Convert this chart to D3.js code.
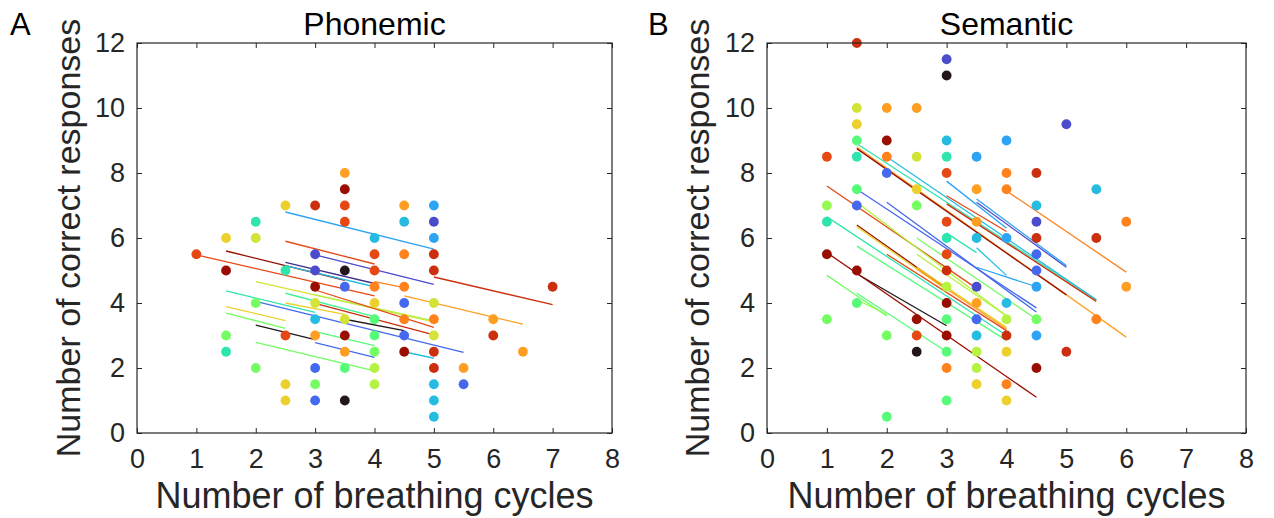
<!DOCTYPE html>
<html>
<head>
<meta charset="utf-8">
<script src="https://cdn.jsdelivr.net/npm/d3@7"></script>
<style>
  body { margin: 0; background: #fff; }
  svg { font-family: "Liberation Sans", Arial, sans-serif; }
</style>
</head>
<body>
<div id="chart"></div>
<script>
// Tick values shared by both panels
const xTicks = [0, 1, 2, 3, 4, 5, 6, 7, 8];
const yTicks = [0, 2, 4, 6, 8, 10, 12];
const panelTitles = ['Phonemic', 'Semantic'];
const panelLetters = ['A', 'B'];
const xLabel = 'Number of breathing cycles';
const yLabel = 'Number of correct responses';

// Points: [breathing cycles, correct responses, subject]
const phonemicPoints = [
  [1, 5.5, 20],
  [1.5, 6, 15], [1.5, 5, 23], [1.5, 3, 11], [1.5, 2.5, 8],
  [2, 6.5, 8], [2, 6, 14], [2, 4, 11], [2, 2, 11],
  [2.5, 7, 15], [2.5, 5, 8], [2.5, 3, 20], [2.5, 1.5, 15], [2.5, 1, 15],
  [3, 7, 21], [3, 5.5, 2], [3, 5, 2], [3, 4.5, 23], [3, 4, 14], [3, 3.5, 6], [3, 3, 17], [3, 2, 3], [3, 1.5, 11], [3, 1, 3],
  [3.5, 8, 17], [3.5, 7.5, 23], [3.5, 7, 20], [3.5, 6.5, 20], [3.5, 5, 0], [3.5, 4.5, 3], [3.5, 3.5, 14], [3.5, 3, 23], [3.5, 2.5, 17], [3.5, 2, 10], [3.5, 1, 0],
  [4, 6, 6], [4, 5.5, 20], [4, 5, 20], [4, 4.5, 18], [4, 4, 15], [4, 3.5, 10], [4, 3, 10], [4, 2.5, 11], [4, 2, 13], [4, 1.5, 13],
  [4.5, 7, 17], [4.5, 6.5, 6], [4.5, 5.5, 18], [4.5, 4.5, 18], [4.5, 4, 3], [4.5, 3.5, 18], [4.5, 3, 3], [4.5, 2.5, 23],
  [5, 7, 5], [5, 6.5, 2], [5, 6, 5], [5, 5.5, 21], [5, 5, 21], [5, 4, 14], [5, 3.5, 18], [5, 3, 14], [5, 2.5, 21], [5, 2, 21], [5, 1.5, 6], [5, 1, 6], [5, 0.5, 6],
  [5.5, 2, 17], [5.5, 1.5, 3],
  [6, 3.5, 17], [6, 3, 21],
  [6.5, 2.5, 17],
  [7, 4.5, 21]
];

// Fitted lines: [x1, y1, x2, y2, subject]
const phonemicLines = [
  [2.5, 6.8, 5, 5.66, 5],
  [2.5, 5.9, 4, 5.2, 20],
  [1, 5.48, 4, 4.22, 20],
  [1.5, 5.6, 3.5, 4.7, 23],
  [3, 5.48, 5, 4.57, 2],
  [2.5, 5.25, 4, 4.6, 1],
  [2.5, 5.15, 4, 4.5, 6],
  [2, 4.66, 5, 3.42, 14],
  [4, 4.66, 4.5, 4.47, 18],
  [4.5, 4.22, 6.5, 3.35, 17],
  [5, 4.8, 7, 3.95, 21],
  [1.5, 4.37, 3, 3.71, 8],
  [2.5, 4.3, 4, 3.58, 9],
  [2, 4.05, 5.5, 2.48, 3],
  [1.5, 3.89, 2.5, 3.46, 15],
  [1.5, 3.69, 2.5, 3.22, 11],
  [2, 3.32, 3, 2.87, 0],
  [2, 2.79, 4, 1.91, 11],
  [3, 3.12, 4, 2.69, 10],
  [3, 2.78, 4, 2.33, 3],
  [3, 4.25, 5, 3.45, 13],
  [3, 3.99, 5, 3.02, 21],
  [3.5, 3.5, 4.5, 3.15, 0],
  [4.5, 2.5, 5, 2.3, 6],
  [3, 4.4, 5, 3.25, 20],
  [2.5, 4.0, 3.5, 3.65, 15]
];

const semanticPoints = [
  [1, 8.5, 20], [1, 7, 12], [1, 6.5, 8], [1, 5.5, 23], [1, 3.5, 11],
  [1.5, 12, 21], [1.5, 10, 14], [1.5, 9.5, 15], [1.5, 9, 10], [1.5, 8.5, 8], [1.5, 7.5, 10], [1.5, 7, 3], [1.5, 5, 23], [1.5, 4, 10],
  [2, 10, 17], [2, 9, 23], [2, 8.5, 18], [2, 8, 3], [2, 3, 11], [2, 0.5, 10],
  [2.5, 10, 17], [2.5, 8.5, 14], [2.5, 7.5, 15], [2.5, 7, 11], [2.5, 3.5, 23], [2.5, 3, 20], [2.5, 2.5, 0],
  [3, 11.5, 2], [3, 11, 0], [3, 9, 6], [3, 8.5, 8], [3, 8, 20], [3, 6.5, 20], [3, 6, 8], [3, 5.5, 20], [3, 5, 21], [3, 4.5, 13], [3, 4, 23], [3, 3.5, 10], [3, 3, 23], [3, 2.5, 10], [3, 2, 18], [3, 1, 10],
  [3.5, 8.5, 5], [3.5, 7.5, 17], [3.5, 6.5, 17], [3.5, 6, 6], [3.5, 4.5, 2], [3.5, 4, 17], [3.5, 3.5, 3], [3.5, 3, 6], [3.5, 2.5, 13], [3.5, 2, 13], [3.5, 1.5, 15],
  [4, 9, 5], [4, 8, 18], [4, 7.5, 18], [4, 6, 5], [4, 4, 6], [4, 3.5, 13], [4, 3, 21], [4, 2.5, 15], [4, 1.5, 18], [4, 1, 15],
  [4.5, 8, 21], [4.5, 7, 6], [4.5, 6.5, 2], [4.5, 6, 21], [4.5, 5.5, 3], [4.5, 5, 3], [4.5, 4.5, 5], [4.5, 3.5, 11], [4.5, 3, 5], [4.5, 2, 23],
  [5, 9.5, 2], [5, 2.5, 21],
  [5.5, 7.5, 6], [5.5, 6, 21], [5.5, 3.5, 18],
  [6, 6.5, 18], [6, 4.5, 17]
];

const semanticLines = [
  [1.5, 8.9, 5.5, 4.1, 8],
  [1.5, 8.8, 6, 2.95, 17],
  [1.5, 8.75, 5, 4.25, 23],
  [2, 8.5, 5.5, 4.1, 6],
  [3, 7.75, 4, 6.3, 5],
  [3, 7.3, 4, 6.2, 20],
  [3, 7.05, 5.5, 4.05, 21],
  [3.5, 7.1, 5, 5.1, 2],
  [3.5, 7.2, 5, 5.15, 5],
  [4, 7.45, 6, 4.95, 18],
  [1, 7.6, 3.5, 4.45, 20],
  [1.5, 7.5, 4.5, 3.85, 3],
  [2, 7.1, 4.5, 3.72, 3],
  [1.5, 7.1, 4, 3.6, 13],
  [1, 6.65, 4, 3.0, 8],
  [1.5, 6.4, 3, 4.45, 23],
  [1.5, 6.35, 3, 4.4, 15],
  [1.5, 5.75, 4, 2.85, 10],
  [2, 5.5, 4, 3.15, 20],
  [2.5, 5.1, 4, 3.25, 15],
  [2.5, 5.05, 4, 3.2, 17],
  [2.5, 5.5, 4, 3.6, 13],
  [1.5, 4.9, 3, 3.3, 0],
  [1, 5.55, 4.5, 1.1, 23],
  [1, 4.85, 2, 3.6, 11],
  [1.5, 4.3, 3, 2.5, 10],
  [2.5, 6.0, 4.5, 3.5, 11],
  [3.5, 5.7, 4, 4.85, 6],
  [3, 6.15, 3.5, 5.55, 8],
  [3.5, 5.1, 4.5, 4.5, 5],
  [1.5, 4.1, 2, 3.65, 12]
];

const width = 1274;
const height = 518;
const axisColor = '#262626';

// subject -> turbo colour
const color = d3.scaleSequential(d3.interpolateTurbo).domain([0, 24]);

const svg = d3.select('#chart')
  .append('svg')
  .attr('width', width)
  .attr('height', height);

const panels = [
  { left: 137, right: 612, points: phonemicPoints, lines: phonemicLines, letterX: 10, labelX: 80 },
  { left: 767, right: 1246, points: semanticPoints, lines: semanticLines, letterX: 648, labelX: 709 }
];
const plotTop = 43;
const plotBottom = 433;

panels.forEach((p, i) => {
  const x = d3.scaleLinear().domain([0, 8]).range([p.left, p.right]);
  const y = d3.scaleLinear().domain([0, 12]).range([plotBottom, plotTop]);
  const g = svg.append('g');

  // regression lines
  g.selectAll('line.fit')
    .data(p.lines)
    .join('line')
    .attr('class', 'fit')
    .attr('x1', d => x(d[0]))
    .attr('y1', d => y(d[1]))
    .attr('x2', d => x(d[2]))
    .attr('y2', d => y(d[3]))
    .attr('stroke', d => color(d[4]))
    .attr('stroke-width', 1.3);

  // scatter points
  g.selectAll('circle')
    .data(p.points)
    .join('circle')
    .attr('cx', d => x(d[0]))
    .attr('cy', d => y(d[1]))
    .attr('r', 4.9)
    .attr('fill', d => color(d[2]));

  // axes with inward ticks on all four sides
  const styleAxis = sel => {
    sel.select('.domain').remove();
    sel.selectAll('line').attr('stroke', axisColor);
    sel.selectAll('text').attr('fill', axisColor);
    sel.attr('font-size', 27).attr('font-family', null);
  };

  g.append('g')
    .attr('transform', `translate(0,${plotBottom})`)
    .call(d3.axisBottom(x).tickValues(xTicks).tickSize(-5).tickPadding(16))
    .call(styleAxis);
  g.append('g')
    .attr('transform', `translate(0,${plotTop})`)
    .call(d3.axisTop(x).tickValues(xTicks).tickSize(-5).tickFormat(''))
    .call(styleAxis);
  g.append('g')
    .attr('transform', `translate(${p.left},0)`)
    .call(d3.axisLeft(y).tickValues(yTicks).tickSize(-5).tickPadding(12))
    .call(styleAxis);
  g.append('g')
    .attr('transform', `translate(${p.right},0)`)
    .call(d3.axisRight(y).tickValues(yTicks).tickSize(-5).tickFormat(''))
    .call(styleAxis);

  g.append('rect')
    .attr('x', p.left)
    .attr('y', plotTop)
    .attr('width', p.right - p.left)
    .attr('height', plotBottom - plotTop)
    .attr('fill', 'none')
    .attr('stroke', axisColor)
    .attr('stroke-width', 1.2);

  // title, panel letter, axis labels
  g.append('text')
    .attr('x', (p.left + p.right) / 2)
    .attr('y', 35)
    .attr('text-anchor', 'middle')
    .attr('font-size', 32)
    .attr('fill', '#000')
    .text(panelTitles[i]);

  g.append('text')
    .attr('x', p.letterX)
    .attr('y', 35)
    .attr('font-size', 31)
    .attr('fill', '#000')
    .text(panelLetters[i]);

  g.append('text')
    .attr('x', (p.left + p.right) / 2)
    .attr('y', 508)
    .attr('text-anchor', 'middle')
    .attr('font-size', 36)
    .attr('fill', axisColor)
    .text(xLabel);

  g.append('text')
    .attr('transform', `translate(${p.labelX},${(plotTop + plotBottom) / 2}) rotate(-90)`)
    .attr('text-anchor', 'middle')
    .attr('font-size', 34)
    .attr('fill', axisColor)
    .text(yLabel);
});
</script>
</body>
</html>
